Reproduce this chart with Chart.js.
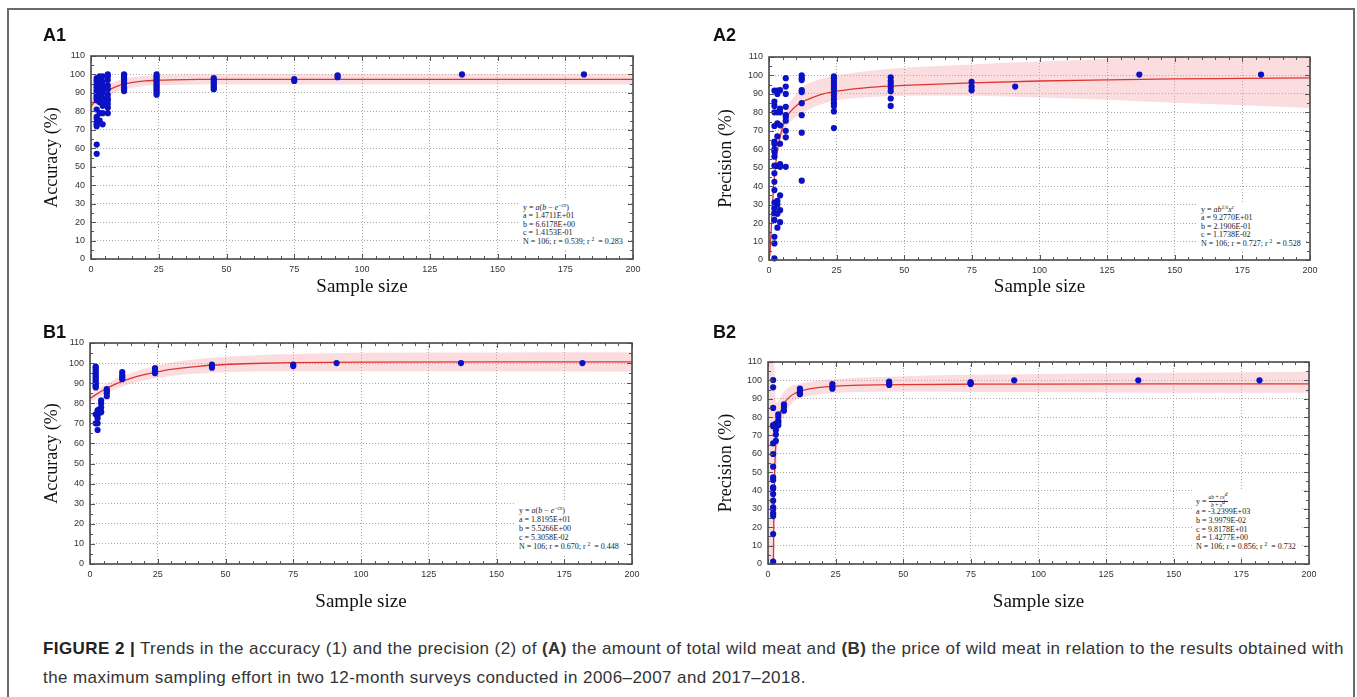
<!DOCTYPE html>
<html>
<head>
<meta charset="utf-8">
<script src="https://cdn.jsdelivr.net/npm/chart.js@4.4.0/dist/chart.umd.min.js"></script>
<style>
  body { margin: 0; background: #fff; }
  #page { position: relative; width: 1357px; height: 697px; overflow: hidden; background: #fff; }
  .frame { position: absolute; left: 7px; top: 8px; width: 1348px; height: 720px; border: 2px solid #6a6a6a; box-sizing: border-box; }
  canvas { position: absolute; }
  .lbl { position: absolute; font: bold 18px 'Liberation Sans', Arial, sans-serif; color: #111; line-height: 18px; }
  .eq { position: absolute; background: #fff; font: 8px/8.4px 'Liberation Serif', 'Times New Roman', serif; color: #222; padding: 4px 5px 3px 4px; white-space: nowrap; }
  .eq i { font-style: italic; }
  .eq sup { font-size: 5.5px; vertical-align: 3px; line-height: 0; }
  .frac { display: inline-block; vertical-align: -3px; text-align: center; font-size: 5.5px; line-height: 5.5px; }
  .frac span { display: block; }
  .frac .num { border-bottom: 0.6px solid #333; }
  .caption { position: absolute; left: 43px; top: 634px; font: 17px/29px 'Liberation Sans', Arial, sans-serif; letter-spacing: 0.42px; color: #333; white-space: nowrap; }
</style>
</head>
<body>
<div id="page">
  <div class="frame"></div>

  <canvas id="a1" width="660" height="300" style="left:0px;top:0px;width:660px;height:300px"></canvas>
  <canvas id="a2" width="660" height="300" style="left:680px;top:0px;width:660px;height:300px"></canvas>
  <canvas id="b1" width="660" height="320" style="left:0px;top:300px;width:660px;height:320px"></canvas>
  <canvas id="b2" width="660" height="320" style="left:680px;top:300px;width:660px;height:320px"></canvas>

  <div class="lbl" style="left:43px;top:26px">A1</div>
  <div class="lbl" style="left:713px;top:26px">A2</div>
  <div class="lbl" style="left:43px;top:323px">B1</div>
  <div class="lbl" style="left:713px;top:323px">B2</div>

  <div class="eq" style="left:519px;top:200px">
    y = <i>a</i>(<i>b</i> &minus; <i>e</i><sup>&minus;<i>cx</i></sup>)<br>
    a = 1.4711E+01<br>
    b = 6.6178E+00<br>
    c = 1.4153E-01<br>
    N = 106; r = 0.539; r <sup>2</sup>&nbsp; = 0.283
  </div>
  <div class="eq" style="left:1197px;top:202px">
    y = <i>ab</i><sup>1/<i>x</i></sup><i>x</i><sup><i>c</i></sup><br>
    a = 9.2770E+01<br>
    b = 2.1906E-01<br>
    c = 1.1738E-02<br>
    N = 106; r = 0.727; r <sup>2</sup>&nbsp; = 0.528
  </div>
  <div class="eq" style="left:515px;top:502px;line-height:9px">
    y = <i>a</i>(<i>b</i> &minus; <i>e</i><sup>&minus;<i>cx</i></sup>)<br>
    a = 1.8195E+01<br>
    b = 5.5266E+00<br>
    c = 5.3058E-02<br>
    N = 106; r = 0.670; r <sup>2</sup>&nbsp; = 0.448
  </div>
  <div class="eq" style="left:1192px;top:490px;line-height:8.8px">
    y = <span class="frac"><span class="num"><i>ab</i> + <i>cx<sup>d</sup></i></span><span><i>b</i> + <i>x<sup>d</sup></i></span></span><br>
    a = -3.2399E+03<br>
    b = 3.9979E-02<br>
    c = 9.8178E+01<br>
    d = 1.4277E+00<br>
    N = 106; r = 0.856; r <sup>2</sup>&nbsp; = 0.732
  </div>

  <div class="caption">
    <b style="color:#222">FIGURE 2 |</b> Trends in the accuracy (1) and the precision (2) of <b>(A)</b> the amount of total wild meat and <b>(B)</b> the price of wild meat in relation to the results obtained with<br>
    the maximum sampling effort in two 12-month surveys conducted in 2006&ndash;2007 and 2017&ndash;2018.
  </div>
</div>

<script>
// axis ticks
const xTicks = [0, 25, 50, 75, 100, 125, 150, 175, 200];
const yTicks = [0, 10, 20, 30, 40, 50, 60, 70, 80, 90, 100, 110];

// A1 - accuracy, amount of wild meat
const a1Sizes = [2.1, 3.2, 4.3, 6.2, 12.2, 24.2, 45.3, 75, 91, 136.9, 181.9];
const a1Values = [
    [98, 97, 96, 95, 94, 93, 92, 91, 90, 89, 88, 87, 86, 81, 77, 76, 74, 73, 72, 62, 57],
    [99, 97, 95, 93, 91, 89, 87, 86, 85, 79, 75],
    [99, 96, 94, 92, 90, 87, 85, 83, 79, 73],
    [100, 99, 97, 94, 92, 89, 87, 86, 84, 82, 79],
    [100, 99, 98, 97, 96, 95, 93, 92, 91],
    [100, 99, 98, 97, 96, 95, 94, 93, 92, 91, 90, 89],
    [98, 97, 96, 95, 94, 93, 92],
    [97.5, 96.5],
    [99.5, 98.5],
    [100],
    [100]
];
const a1FitX = [0, 2, 4, 6, 8, 10, 12, 15, 20, 25, 30, 40, 60, 100, 200];
const a1Fit = [82.6, 86.3, 89.0, 91.1, 92.6, 93.8, 94.7, 95.6, 96.5, 96.9, 97.1, 97.3, 97.35, 97.35, 97.35];
const a1Upper = [87.6, 90.5, 92.6, 94.4, 95.7, 96.8, 97.6, 98.45, 99.3, 99.7, 99.9, 100.1, 100.15, 100.15, 100.15];
const a1Lower = [77.6, 82.1, 85.4, 87.8, 89.5, 90.8, 91.8, 92.75, 93.7, 94.1, 94.3, 94.5, 94.55, 94.55, 94.55];

// A2 - precision, amount of wild meat
const a2Sizes = [2.0, 3.1, 4.1, 6.2, 12.1, 24.0, 45.0, 74.9, 91, 136.9, 181.9];
const a2Values = [
    [91.8, 85.8, 83.5, 80, 72.6, 64.1, 62.9, 60, 58.7, 56, 51.1, 47, 42.4, 37.9, 31.1, 28, 25.3, 21.7, 12.6, 9, 0.9],
    [91.8, 90, 80, 74, 67, 51, 32, 30, 25, 17.5],
    [92, 82, 80, 73, 63, 52, 50.5, 35, 27, 20.5],
    [98.5, 94, 90, 83, 78.5, 77.5, 75.5, 70, 66.5, 50.5],
    [100, 98.5, 97.5, 92, 91, 85, 78.5, 69, 43],
    [99.5, 98.5, 97, 95.5, 94, 92.5, 90.5, 89, 87, 85, 83.5, 80.5, 71.5],
    [99, 97, 95.5, 93.5, 91.5, 87.5, 83.5],
    [96.5, 94, 92],
    [94],
    [100.5],
    [100.5]
];
const a2FitX = [0.3, 0.6, 1, 1.5, 2, 3, 4, 6, 8, 10, 12, 16, 20, 25, 30, 40, 50, 75, 100, 125, 150, 175, 200];
const a2Fit = [2, 10, 22, 35, 45, 58, 66, 76, 80.5, 83.5, 85.5, 88, 90, 91.5, 92.5, 93.8, 94.6, 96, 97, 97.6, 98.1, 98.4, 98.7];
const a2Upper = [3, 13, 26, 39, 49, 62, 70, 80, 86, 90, 93.5, 96.5, 98.5, 100, 101.2, 103, 104.2, 106, 107.5, 109, 110.5, 111.5, 112.5];
const a2Lower = [0, 7, 18, 31, 41, 54, 62, 71, 75, 77.5, 79.5, 82.5, 84.7, 86.5, 87.5, 88.5, 89, 89, 88, 86.8, 85.2, 83.8, 82.3];

// B1 - accuracy, price of wild meat
const b1Sizes = [2.1, 2.8, 3.4, 4.1, 6.2, 11.9, 24.0, 45.0, 75.0, 91, 136.9, 181.7];
const b1Values = [
    [98.2, 97.5, 96.5, 95.5, 94.5, 93.5, 92.5, 91.5, 90.5, 89.5, 88.5, 87.9, 74.5, 70],
    [76.5, 74, 72.5, 70, 66.7],
    [77, 75.5],
    [81.5, 80, 78, 76, 75.5],
    [87, 86, 85, 83.5],
    [95.5, 94, 93, 92],
    [97.5, 96.5, 96, 95],
    [99.3, 98.5, 97.7],
    [99.3, 98.5],
    [100],
    [100],
    [100]
];
const b1FitX = [0, 2, 5, 10, 15, 20, 25, 30, 40, 50, 60, 75, 100, 150, 200];
const b1Fit = [82.4, 84.2, 86.6, 89.9, 92.4, 94.3, 95.7, 96.9, 98.4, 99.3, 99.8, 100.2, 100.5, 100.56, 100.56];
const b1Upper = [84.1, 86.1, 88.8, 92.4, 95.1, 97.2, 98.8, 100.2, 102.0, 103.1, 103.8, 104.5, 105.1, 105.3, 105.4];
const b1Lower = [80.7, 82.3, 84.4, 87.4, 89.7, 91.4, 92.6, 93.6, 94.8, 95.5, 95.8, 95.9, 95.9, 95.8, 95.7];

// B2 - precision, price of wild meat
const b2Sizes = [1.9, 2.9, 3.8, 5.9, 11.8, 23.8, 44.8, 74.9, 91, 136.9, 181.7];
const b2Values = [
    [100.2, 96.2, 85, 75.7, 75, 65.7, 59.9, 53, 47.2, 45.8, 41.8, 41, 38.1, 34.5, 30.9, 30, 27.6, 26.1, 16.3, 1.3],
    [76.5, 75, 73, 70.5, 67],
    [81.5, 80, 78, 77, 75.5],
    [87, 85.5, 83.5],
    [95.5, 94, 93, 92.5],
    [98, 96.5, 95.5],
    [99.3, 98.5, 97.5],
    [99, 98.5, 98],
    [100],
    [100],
    [100]
];
const b2FitX = [2.0, 2.2, 2.5, 3, 3.5, 4, 5, 6, 8, 10, 12, 16, 20, 25, 35, 50, 75, 100, 150, 200];
const b2Fit = [0, 30, 52, 68, 75, 79.5, 84.5, 87.5, 91, 93, 94.2, 95.5, 96.3, 96.9, 97.4, 97.7, 97.9, 98.0, 98.1, 98.1];
const b2BandX = [0.3, 2.0, 2.2, 2.5, 3, 3.5, 4, 5, 6, 8, 10, 12, 16, 20, 25, 35, 50, 75, 100, 150, 200];
const b2Upper = [112, 112, 112, 100, 88, 88, 89, 92, 94, 96.5, 97.5, 98.3, 99.3, 100, 100.7, 101.5, 102.3, 103, 103.5, 104.2, 104.7];
const b2Lower = [0, 0, 0, 20, 48, 62, 70, 77, 81, 86, 89, 90.5, 91.8, 92.5, 93.2, 93.6, 93.8, 93.7, 93.5, 93.3, 93.2];


const frameTicks = {
    id: "frameTicks",
    afterDatasetsDraw(chart) {
        const { ctx, chartArea: a, scales } = chart;
        const x = scales.x;
        const y = scales.y;
        ctx.save();
        ctx.strokeStyle = "#555";
        ctx.lineWidth = 1;
        ctx.beginPath();
        for (let v = 0; v <= 200; v += 5) {
            const px = Math.round(x.getPixelForValue(v)) + 0.5;
            const len = v % 25 === 0 ? 5 : 3;
            ctx.moveTo(px, a.bottom);
            ctx.lineTo(px, a.bottom - len);
            ctx.moveTo(px, a.top);
            ctx.lineTo(px, a.top + len);
        }
        for (let v = 0; v <= 110; v += 5) {
            const py = Math.round(y.getPixelForValue(v)) + 0.5;
            const len = v % 10 === 0 ? 5 : 3;
            ctx.moveTo(a.left, py);
            ctx.lineTo(a.left + len, py);
            ctx.moveTo(a.right, py);
            ctx.lineTo(a.right - len, py);
        }
        ctx.stroke();
        ctx.lineWidth = 1.6;
        ctx.strokeStyle = "#4a4a4a";
        ctx.strokeRect(a.left, a.top, a.right - a.left, a.bottom - a.top);
        ctx.restore();
    }
};

function toPoints(xs, ys) {
    return xs.map((x, i) => ({ x: x, y: ys[i] }));
}

function makePanel(id, p) {
    const pts = [];
    p.sizes.forEach((s, i) => {
        p.values[i].forEach(v => pts.push({ x: s, y: v }));
    });
    const bandX = p.bandX || p.fitX;

    new Chart(document.getElementById(id), {
        type: "scatter",
        data: {
            datasets: [
                {
                    data: pts,
                    backgroundColor: "#0b12c4",
                    borderWidth: 0,
                    pointRadius: 3.1,
                    clip: false,
                    order: 0
                },
                {
                    type: "line",
                    data: toPoints(p.fitX, p.fit),
                    borderColor: "#e0352f",
                    borderWidth: 1.3,
                    pointRadius: 0,
                    cubicInterpolationMode: "monotone",
                    fill: false,
                    order: 1
                },
                {
                    type: "line",
                    data: toPoints(bandX, p.upper),
                    borderWidth: 0,
                    pointRadius: 0,
                    cubicInterpolationMode: "monotone",
                    backgroundColor: "rgba(242, 150, 160, 0.32)",
                    fill: "+1",
                    order: 2
                },
                {
                    type: "line",
                    data: toPoints(bandX, p.lower),
                    borderWidth: 0,
                    pointRadius: 0,
                    cubicInterpolationMode: "monotone",
                    fill: false,
                    order: 3
                }
            ]
        },
        options: {
            responsive: false,
            animation: false,
            events: [],
            layout: { padding: { top: p.top, right: p.right, left: 0, bottom: 0 } },
            plugins: { legend: { display: false }, tooltip: { enabled: false } },
            scales: {
                x: {
                    type: "linear",
                    min: 0,
                    max: 200,
                    afterBuildTicks: s => { s.ticks = xTicks.map(v => ({ value: v })); },
                    afterFit: s => { s.height = p.xHeight; },
                    grid: { color: "#a8a8a8", lineWidth: 1, drawTicks: false },
                    border: { display: false, dash: [1, 2] },
                    ticks: { padding: 5, color: "#333", font: { family: "'Liberation Sans', Arial", size: 9 } },
                    title: {
                        display: true,
                        text: "Sample size",
                        color: "#111",
                        font: { family: "'Liberation Serif', 'Times New Roman', serif", size: 19 },
                        padding: { top: 0, bottom: p.xTitlePad }
                    }
                },
                y: {
                    min: 0,
                    max: 110,
                    afterBuildTicks: s => { s.ticks = yTicks.map(v => ({ value: v })); },
                    afterFit: s => { s.width = p.yWidth; },
                    grid: { color: "#a8a8a8", lineWidth: 1, drawTicks: false },
                    border: { display: false, dash: [1, 2] },
                    ticks: { padding: 6, color: "#333", font: { family: "'Liberation Sans', Arial", size: 9 } },
                    title: {
                        display: true,
                        text: p.yTitle,
                        color: "#111",
                        font: { family: "'Liberation Serif', 'Times New Roman', serif", size: 18 },
                        padding: { top: p.yTitlePad, bottom: 0 }
                    }
                }
            }
        },
        plugins: [frameTicks]
    });
}

makePanel("a1", {
    sizes: a1Sizes, values: a1Values, fitX: a1FitX, fit: a1Fit, upper: a1Upper, lower: a1Lower,
    yTitle: "Accuracy (%)", top: 56, right: 27, yWidth: 91, xHeight: 41, xTitlePad: 1.6, yTitlePad: 41
});
makePanel("a2", {
    sizes: a2Sizes, values: a2Values, fitX: a2FitX, fit: a2Fit, upper: a2Upper, lower: a2Lower,
    yTitle: "Precision (%)", top: 57, right: 30, yWidth: 89, xHeight: 40, xTitlePad: 1.6, yTitlePad: 35
});
makePanel("b1", {
    sizes: b1Sizes, values: b1Values, fitX: b1FitX, fit: b1Fit, upper: b1Upper, lower: b1Lower,
    yTitle: "Accuracy (%)", top: 43, right: 28, yWidth: 90, xHeight: 56, xTitlePad: 6.6, yTitlePad: 41.7
});
makePanel("b2", {
    sizes: b2Sizes, values: b2Values, fitX: b2FitX, fit: b2Fit, bandX: b2BandX, upper: b2Upper, lower: b2Lower,
    yTitle: "Precision (%)", top: 62, right: 31, yWidth: 88, xHeight: 56, xTitlePad: 6.6, yTitlePad: 35
});
</script>
</body>
</html>
